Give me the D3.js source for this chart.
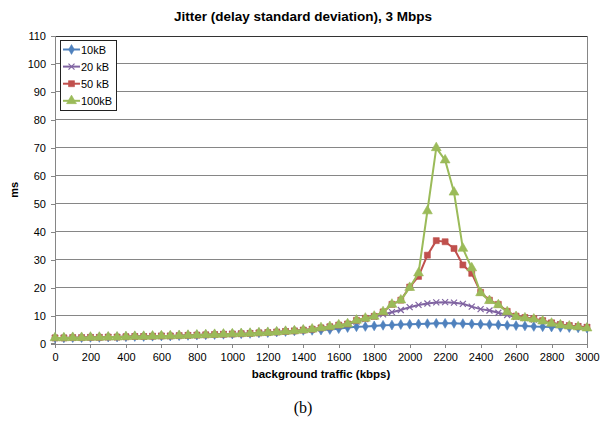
<!DOCTYPE html>
<html><head><meta charset="utf-8">
<script src="https://cdn.jsdelivr.net/npm/d3@7"></script>
<style>body{margin:0;background:#fff;} svg{display:block;font-family:"Liberation Sans",Arial,sans-serif;}</style>
</head><body>
<svg id="c" width="606" height="421"></svg>
<script>
const kbps = [0,50,100,150,200,250,300,350,400,450,500,550,600,650,700,750,800,850,900,950,
  1000,1050,1100,1150,1200,1250,1300,1350,1400,1450,1500,1550,1600,1650,1700,1750,1800,1850,1900,1950,
  2000,2050,2100,2150,2200,2250,2300,2350,2400,2450,2500,2550,2600,2650,2700,2750,2800,2850,2900,2950,3000];
const s10kB = [2.0,2.0,2.1,2.1,2.2,2.2,2.3,2.3,2.4,2.5,2.5,2.6,2.7,2.7,2.8,2.9,3.0,3.1,3.2,3.3,
  3.4,3.5,3.6,3.8,3.9,4.1,4.3,4.5,4.7,4.7,4.8,5.0,5.3,5.7,6.0,6.1,6.3,6.5,6.6,6.8,
  6.9,7.0,7.1,7.2,7.2,7.2,7.1,7.0,6.9,6.8,6.7,6.5,6.4,6.3,6.1,6.0,5.9,5.8,5.7,5.6,5.5];
const s20kB = [2.0,2.0,2.1,2.1,2.2,2.2,2.3,2.3,2.4,2.5,2.5,2.6,2.7,2.7,2.8,2.9,3.0,3.1,3.2,3.3,
  3.4,3.5,3.6,3.8,3.9,4.1,4.3,4.5,4.8,5.1,5.5,5.9,6.4,6.9,7.8,8.7,9.6,10.4,11.2,12.0,
  13.0,13.8,14.3,14.7,14.8,14.6,14.2,13.2,12.3,11.8,11.0,10.2,9.5,9.1,8.6,8.0,7.3,6.8,6.4,6.1,5.8];
const s50kB = [2.0,2.0,2.1,2.1,2.2,2.2,2.3,2.3,2.4,2.5,2.5,2.6,2.7,2.7,2.8,2.9,3.0,3.1,3.2,3.3,
  3.4,3.5,3.6,3.8,3.9,4.1,4.3,4.5,4.8,5.1,5.6,6.0,6.6,7.0,8.3,9.0,9.7,11.3,14.0,15.5,
  20.2,24.0,31.6,36.8,36.4,34.0,28.1,25.1,18.3,15.5,14.0,11.5,9.8,9.3,8.9,8.2,7.4,6.8,6.4,6.1,5.8];
const s100kB = [2.0,2.0,2.1,2.1,2.2,2.2,2.3,2.3,2.4,2.5,2.5,2.6,2.7,2.7,2.8,2.9,3.0,3.1,3.2,3.3,
  3.4,3.5,3.6,3.8,3.9,4.1,4.3,4.5,4.8,5.1,5.6,6.0,6.6,7.0,8.3,9.0,9.7,11.3,14.0,15.5,
  20.0,25.2,47.4,70.0,65.6,54.1,34.0,27.0,18.1,15.3,13.8,11.3,9.6,9.1,8.7,8.0,7.2,6.6,6.2,5.9,5.5];
const seriesNames = ["10kB","20 kB","50 kB","100kB"];
const seriesColors = ["#4F81BD","#8064A2","#C0504D","#9BBB59"];
const seriesMarkers = ["diamond","x","square","triangle"];
const xTicks = [0,200,400,600,800,1000,1200,1400,1600,1800,2000,2200,2400,2600,2800,3000];
const yTicks = [0,10,20,30,40,50,60,70,80,90,100,110];
const titleText = "Jitter (delay standard deviation), 3 Mbps";
const xLabel = "background traffic (kbps)";
const yLabel = "ms";
const caption = "(b)";

const seriesValues = [s10kB, s20kB, s50kB, s100kB];
const svg = d3.select("#c");
const L = 55, R = 587, T = 36, B = 343.5;
const x = d3.scaleLinear().domain([0,3000]).range([L,R]);
const y = d3.scaleLinear().domain([0,110]).range([B,T]);
const grid = "#868686";

// gridlines
svg.append("g").selectAll("line").data(yTicks.filter(d=>d>0)).join("line")
  .attr("x1",L).attr("x2",R).attr("y1",d=>y(d)).attr("y2",d=>y(d))
  .attr("stroke",grid).attr("stroke-width",1).attr("shape-rendering","crispEdges");
// plot border right/top
svg.append("line").attr("x1",R).attr("x2",R).attr("y1",T).attr("y2",B).attr("stroke",grid).attr("shape-rendering","crispEdges");
svg.append("line").attr("x1",L).attr("x2",R).attr("y1",T).attr("y2",T).attr("stroke","#333").attr("shape-rendering","crispEdges");

// axes
const xAxis = d3.axisBottom(x).tickValues(xTicks).tickSize(4).tickPadding(6).tickFormat(d3.format("d"));
const gx = svg.append("g").attr("transform",`translate(0,${B})`).call(xAxis);
const yAxis = d3.axisLeft(y).tickValues(yTicks).tickSize(4).tickPadding(5);
const gy = svg.append("g").attr("transform",`translate(${L},0)`).call(yAxis);
[gx,gy].forEach(g=>{
  g.select(".domain").attr("stroke",grid).attr("shape-rendering","crispEdges");
  g.selectAll(".tick line").attr("stroke",grid).attr("shape-rendering","crispEdges");
  g.selectAll("text").attr("fill","#000").attr("font-size","11px")
    .attr("font-family",'"Liberation Sans",Arial,sans-serif');
});
gy.select(".domain").attr("d",`M-4,${T}H0V${B}H-4`);

// series
const line = d3.line().x((d,i)=>x(kbps[i])).y(d=>y(d));
function markerPath(type){
  if(type==="diamond") return d3.symbol(d3.symbolDiamond,28)();
  if(type==="square") return d3.symbol(d3.symbolSquare,36)();
  if(type==="triangle") return d3.symbol(d3.symbolTriangle,42)();
  return "M-3,-3L3,3M-3,3L3,-3";
}
seriesValues.forEach((vals,si)=>{
  const g = svg.append("g");
  g.append("path").datum(vals).attr("d",line).attr("fill","none")
    .attr("stroke",seriesColors[si]).attr("stroke-width",2).attr("stroke-linejoin","round");
  g.selectAll("path.m").data(vals).join("path").attr("class","m")
    .attr("transform",(d,i)=>`translate(${x(kbps[i])},${y(d)})`)
    .attr("d",markerPath(seriesMarkers[si]))
    .attr("fill",seriesMarkers[si]==="x"?"none":seriesColors[si])
    .attr("stroke",seriesColors[si]).attr("stroke-width",seriesMarkers[si]==="x"?1.2:0.6);
});

// legend
const lg = svg.append("g");
lg.append("rect").attr("x",60.5).attr("y",40.5).attr("width",56).attr("height",70)
  .attr("fill","#fff").attr("stroke","#222").attr("stroke-width",1);
seriesNames.forEach((n,i)=>{
  const yy = 49.5 + i*17.1;
  lg.append("line").attr("x1",63).attr("x2",80).attr("y1",yy).attr("y2",yy)
    .attr("stroke",seriesColors[i]).attr("stroke-width",2);
  lg.append("path").attr("transform",`translate(71.5,${yy})`).attr("d",markerPath(seriesMarkers[i]))
    .attr("fill",seriesMarkers[i]==="x"?"none":seriesColors[i])
    .attr("stroke",seriesColors[i]).attr("stroke-width",seriesMarkers[i]==="x"?1.2:0.6);
  lg.append("text").attr("x",81).attr("y",yy+4).attr("font-size","11px").attr("fill","#000").text(n);
});

// titles
svg.append("text").attr("x",303).attr("y",21).attr("text-anchor","middle")
  .attr("font-size","13.5px").attr("font-weight","bold").text(titleText);
svg.append("text").attr("x",(L+R)/2).attr("y",378).attr("text-anchor","middle")
  .attr("font-size","11.5px").attr("font-weight","bold").text(xLabel);
svg.append("text").attr("transform",`translate(18,${(T+B)/2}) rotate(-90)`).attr("text-anchor","middle")
  .attr("font-size","11px").attr("font-weight","bold").text(yLabel);
svg.append("text").attr("x",303).attr("y",413).attr("text-anchor","middle")
  .attr("font-family",'"Liberation Serif","Times New Roman",serif').attr("font-size","16px").text(caption);
</script>
</body></html>
